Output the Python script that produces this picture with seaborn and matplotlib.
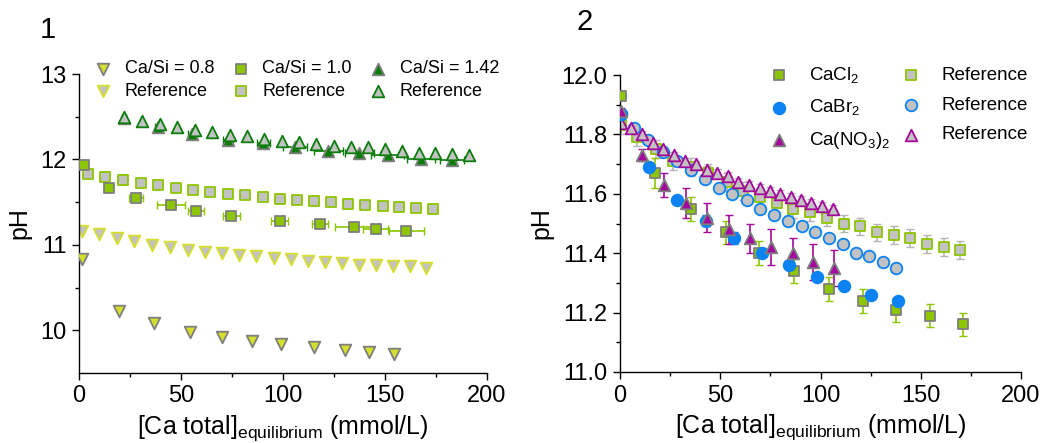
import numpy as np
import pandas as pd
import matplotlib
matplotlib.use("Agg")
import matplotlib.pyplot as plt
import seaborn as sns

# ---------------- Panel 1 data ----------------
cs08_x = [1.3, 19.8, 36.8, 54.5, 70.0, 85.0, 99.1, 115.0, 130.5, 142.1, 154.4]
cs08_y = [10.83, 10.22, 10.08, 9.98, 9.92, 9.87, 9.84, 9.80, 9.77, 9.75, 9.72]
ref08_x = [1.3, 9.8, 18.5, 27.1, 36.0, 44.6, 53.3, 61.7, 70.2, 78.5, 86.8, 95.4,
           103.9, 112.1, 120.6, 128.8, 137.1, 145.6, 154.0, 162.2, 170.3]
ref08_y = [11.16, 11.13, 11.08, 11.04, 11.00, 10.97, 10.94, 10.92, 10.90, 10.88, 10.87,
           10.85, 10.83, 10.81, 10.80, 10.79, 10.77, 10.76, 10.75, 10.75, 10.73]

cs10_x = [2.3, 14.7, 28.0, 45.0, 57.2, 74.7, 98.3, 118.2, 134.6, 145.4, 160.4]
cs10_y = [11.93, 11.67, 11.55, 11.47, 11.40, 11.34, 11.28, 11.24, 11.21, 11.19, 11.16]
cs10_xerr = [0.5, 0.5, 3.3, 7.0, 4.0, 4.0, 4.0, 4.0, 9.0, 6.0, 8.5]
ref10_x = [4.3, 12.9, 21.6, 30.3, 38.9, 47.4, 55.9, 64.4, 73.1, 81.6, 90.1, 98.6,
           106.9, 115.3, 123.6, 131.9, 140.3, 148.8, 156.8, 165.0, 173.3]
ref10_y = [11.83, 11.79, 11.76, 11.72, 11.70, 11.67, 11.64, 11.62, 11.60, 11.58, 11.56,
           11.54, 11.53, 11.51, 11.50, 11.48, 11.47, 11.46, 11.44, 11.43, 11.42]

cs142_x = [22.2, 38.6, 55.3, 72.9, 90.4, 106.0, 122.3, 137.4, 151.3, 167.6, 182.8]
cs142_y = [12.49, 12.38, 12.30, 12.23, 12.19, 12.15, 12.10, 12.07, 12.05, 12.01, 11.99]
cs142_xerr = [1.0, 1.5, 2.0, 2.5, 3.0, 6.0, 7.0, 7.0, 8.0, 7.0, 6.0]
ref142_x = [22.2, 31.1, 39.7, 48.2, 56.7, 65.2, 73.8, 82.3, 90.9, 99.4, 107.9,
            116.3, 124.8, 133.3, 141.6, 149.8, 158.3, 166.5, 174.7, 182.8, 191.3]
ref142_y = [12.50, 12.45, 12.42, 12.38, 12.35, 12.32, 12.29, 12.27, 12.24, 12.22, 12.20,
            12.18, 12.16, 12.15, 12.14, 12.12, 12.10, 12.08, 12.07, 12.06, 12.05]

# ---------------- Panel 2 data ----------------
cl_x = [0.5, 17.6, 35.3, 52.7, 69.5, 87.0, 104.0, 121.0, 137.8, 154.4, 171.0]
cl_y = [11.93, 11.67, 11.55, 11.47, 11.40, 11.34, 11.28, 11.24, 11.21, 11.19, 11.16]
cl_yerr = [0.01, 0.05, 0.04, 0.04, 0.04, 0.04, 0.04, 0.04, 0.04, 0.04, 0.04]
refcl_x = [0.5, 8.3, 18.0, 26.6, 35.3, 44.1, 53.2, 61.2, 69.9, 78.2, 86.5, 94.8,
           103.2, 111.5, 119.8, 128.1, 136.5, 144.8, 153.1, 161.4, 169.7]
refcl_y = [11.83, 11.79, 11.75, 11.71, 11.69, 11.67, 11.64, 11.61, 11.59, 11.57, 11.55,
           11.54, 11.52, 11.50, 11.49, 11.47, 11.46, 11.45, 11.43, 11.42, 11.41]

br_x = [0.5, 14.5, 28.6, 42.8, 57.1, 70.7, 84.5, 98.2, 111.8, 125.3, 138.9]
br_y = [11.87, 11.69, 11.58, 11.51, 11.45, 11.40, 11.36, 11.32, 11.29, 11.26, 11.24]
br_yerr = [0.01, 0.01, 0.01, 0.02, 0.02, 0.01, 0.01, 0.01, 0.01, 0.01, 0.01]
refbr_x = [0.5, 7.2, 14.1, 21.3, 28.3, 35.3, 42.4, 49.4, 56.1, 63.2, 69.9, 77.0,
           83.7, 90.7, 97.3, 104.3, 111.1, 117.8, 124.3, 131.1, 137.8]
refbr_y = [11.87, 11.82, 11.78, 11.74, 11.71, 11.68, 11.65, 11.62, 11.60, 11.58, 11.55,
           11.53, 11.51, 11.49, 11.47, 11.45, 11.43, 11.40, 11.39, 11.37, 11.35]

no3_x = [0.5, 11.1, 21.9, 32.8, 43.6, 54.4, 64.6, 75.5, 86.2, 96.2, 106.5]
no3_y = [11.88, 11.73, 11.63, 11.57, 11.52, 11.48, 11.45, 11.42, 11.40, 11.37, 11.35]
no3_yerr = [0.01, 0.02, 0.04, 0.05, 0.05, 0.05, 0.05, 0.06, 0.05, 0.06, 0.06]
refno3_x = [0.5, 5.5, 10.8, 16.3, 21.6, 26.9, 32.4, 37.9, 43.3, 48.6, 53.9, 59.1,
            64.4, 69.6, 74.9, 79.9, 85.2, 90.3, 95.3, 100.7, 106.0]
refno3_y = [11.84, 11.82, 11.80, 11.77, 11.75, 11.73, 11.71, 11.70, 11.68, 11.67, 11.66,
            11.64, 11.63, 11.62, 11.61, 11.60, 11.59, 11.58, 11.57, 11.56, 11.55]
ref_yerr = 0.03

# ---------------- style ----------------
sns.set_theme(style="ticks")
plt.rcParams['font.family'] = ['Liberation Sans', 'DejaVu Sans']
plt.rcParams['mathtext.fontset'] = 'custom'
plt.rcParams['mathtext.rm'] = 'Liberation Sans'
plt.rcParams['mathtext.it'] = 'Liberation Sans'
plt.rcParams['text.color'] = 'black'
plt.rcParams['axes.labelcolor'] = 'black'
plt.rcParams['xtick.color'] = 'black'
plt.rcParams['ytick.color'] = 'black'

C08 = '#d6df2c'
C10 = '#8cc600'
C142 = '#0b7d0b'
CBLUE = '#0d82f2'
CMAG = '#a3079b'
GRAY = '#c2c2c2'
DGRAY = '#7f7f7f'

fig = plt.figure(figsize=(10.46, 4.43), dpi=100)
ax1 = fig.add_axes([79/1046, 1-373/443, (487-79)/1046, (373-74)/443])
ax2 = fig.add_axes([620/1046, 1-372/443, (1021-620)/1046, (372-75)/443])

S = 70
LW = 1.3


def pts(ax, x, y, marker, face, edge, label, z, s=S):
    df = pd.DataFrame({'x': x, 'y': y})
    sns.scatterplot(data=df, x='x', y='y', ax=ax, marker=marker, s=s,
                    color=face, edgecolor=edge, linewidth=LW, label=label,
                    zorder=z, legend=False)


# Panel 1
ax1.errorbar(cs10_x, cs10_y, xerr=cs10_xerr, fmt='none', ecolor=C10, elinewidth=1.2,
             capsize=3, zorder=3)
ax1.errorbar(cs142_x, cs142_y, xerr=cs142_xerr, fmt='none', ecolor=C142, elinewidth=1.2,
             capsize=3, zorder=3)
pts(ax1, ref08_x, ref08_y, 'v', GRAY, C08, 'Reference', 2)
pts(ax1, cs08_x, cs08_y, 'v', C08, DGRAY, 'Ca/Si = 0.8', 4)
pts(ax1, ref10_x, ref10_y, 's', GRAY, C10, 'Reference', 2, s=60)
pts(ax1, cs10_x, cs10_y, 's', C10, DGRAY, 'Ca/Si = 1.0', 4, s=60)
pts(ax1, cs142_x, cs142_y, '^', C142, DGRAY, 'Ca/Si = 1.42', 4)
pts(ax1, ref142_x, ref142_y, '^', GRAY, C142, 'Reference', 5)

ax1.set_xlim(0, 200)
ax1.set_ylim(9.5, 13)
ax1.set_xticks([0, 50, 100, 150, 200])
ax1.set_xticks([25, 75, 125, 175], minor=True)
ax1.set_yticks([10, 11, 12, 13])
ax1.set_yticks([10.5, 11.5, 12.5], minor=True)

# Panel 2
ax2.errorbar(refcl_x, refcl_y, yerr=ref_yerr, fmt='none', ecolor='#b5b5b5', elinewidth=1.2,
             capsize=3, zorder=1)
ax2.errorbar(refno3_x, refno3_y, yerr=0.012, fmt='none', ecolor='#b5b5b5', elinewidth=1.2,
             capsize=3, zorder=1)
ax2.errorbar(cl_x, cl_y, yerr=cl_yerr, fmt='none', ecolor=C10, elinewidth=1.2,
             capsize=3, zorder=3)
ax2.errorbar(br_x, br_y, yerr=br_yerr, fmt='none', ecolor=CBLUE, elinewidth=1.2,
             capsize=3, zorder=3)
ax2.errorbar(no3_x, no3_y, yerr=no3_yerr, fmt='none', ecolor=CMAG, elinewidth=1.2,
             capsize=3, zorder=3)
pts(ax2, refcl_x, refcl_y, 's', GRAY, C10, 'Reference', 2, s=60)
pts(ax2, refbr_x, refbr_y, 'o', GRAY, CBLUE, 'Reference', 2)
pts(ax2, refno3_x, refno3_y, '^', GRAY, CMAG, 'Reference', 2)
pts(ax2, cl_x, cl_y, 's', C10, DGRAY, 'CaCl$_2$', 4, s=60)
pts(ax2, br_x, br_y, 'o', CBLUE, CBLUE, 'CaBr$_2$', 4)
pts(ax2, no3_x, no3_y, '^', CMAG, DGRAY, 'Ca(NO$_3$)$_2$', 4)

ax2.set_xlim(0, 200)
ax2.set_ylim(11.0, 12.0)
ax2.set_xticks([0, 50, 100, 150, 200])
ax2.set_xticks([25, 75, 125, 175], minor=True)
ax2.set_yticks([11.0, 11.2, 11.4, 11.6, 11.8, 12.0])
ax2.set_yticks([11.1, 11.3, 11.5, 11.7, 11.9], minor=True)
ax2.yaxis.set_major_formatter(matplotlib.ticker.FormatStrFormatter('%.1f'))

xlabel = r'[Ca total]$_{\mathrm{equilibrium}}$ (mmol/L)'
for ax in (ax1, ax2):
    sns.despine(ax=ax)
    ax.spines['left'].set_color('black')
    ax.spines['bottom'].set_color('black')
    ax.spines['left'].set_linewidth(1.0)
    ax.spines['bottom'].set_linewidth(1.0)
    ax.tick_params(axis='both', which='major', direction='out', length=5, width=1,
                   labelsize=17, color='black', labelcolor='black', pad=4)
    ax.tick_params(axis='both', which='minor', direction='out', length=3, width=1,
                   color='black')
    ax.set_xlabel(xlabel, fontsize=18, labelpad=4, color='black')
    ax.set_ylabel('pH', fontsize=18, labelpad=6, color='black')
    ax.grid(False)

# Legends
h1, l1 = ax1.get_legend_handles_labels()
order1 = [1, 0, 3, 2, 4, 5]
leg1 = ax1.legend([h1[i] for i in order1], [l1[i] for i in order1], ncol=3,
                  loc='upper left', bbox_to_anchor=(0.015, 1.07), frameon=False,
                  fontsize=13, handletextpad=0.6, columnspacing=0.85,
                  labelspacing=0.3, borderaxespad=0, handlelength=1.2)

h2, l2 = ax2.get_legend_handles_labels()
order2 = [3, 4, 5, 0, 1, 2]
leg2 = ax2.legend([h2[i] for i in order2], [l2[i] for i in order2], ncol=2,
                  loc='upper right', bbox_to_anchor=(1.035, 1.06), frameon=False,
                  fontsize=13.5, handletextpad=1.0, columnspacing=0.5,
                  labelspacing=0.68, borderaxespad=0, handlelength=1.2)
for lg in (leg1, leg2):
    for t in lg.get_texts():
        t.set_color('black')

fig.text(40/1046, 1-30/443, '1', fontsize=21, ha='left', va='center')
fig.text(576/1046, 1-22/443, '2', fontsize=21, ha='left', va='center')

fig.savefig('out.png', dpi=100)
